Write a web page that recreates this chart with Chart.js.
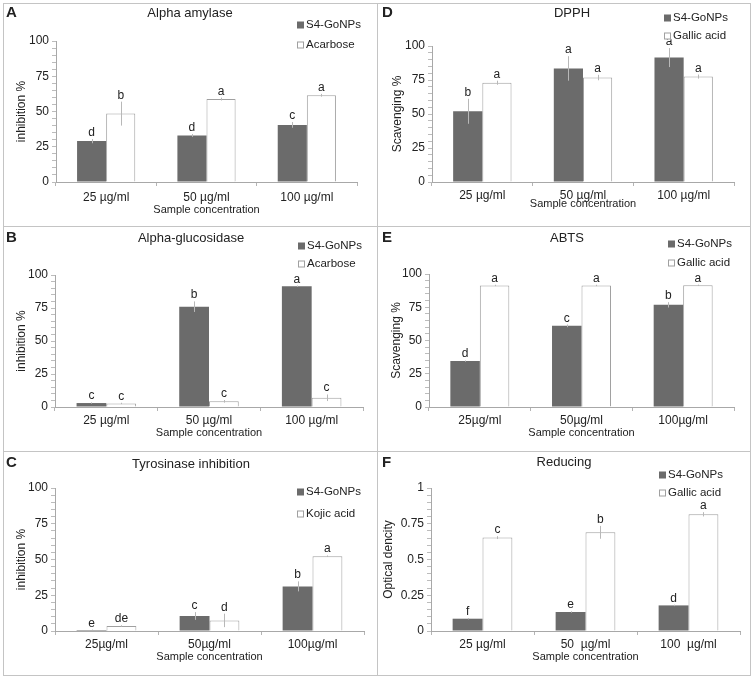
<!DOCTYPE html>
<html lang="en">
<head>
<meta charset="UTF-8" />
<title>Enzyme inhibition and antioxidant activity</title>
<script src="https://cdn.jsdelivr.net/npm/chart.js"></script>
<style>
  body { margin: 0; background: #fff; }
  .figure { position: relative; width: 753px; height: 677px; }
  .figure canvas { position: absolute; }
  .frame { position: absolute; left: 3px; top: 3px; width: 746px; height: 671px; border: 1px solid #c4c4c4; }
  .rule { position: absolute; background: #c4c4c4; }
</style>
</head>
<body>
<div class="figure" id="figure">
  <div class="frame"></div>
  <div class="rule" style="left:377px;top:3px;width:1px;height:673px"></div>
  <div class="rule" style="left:3px;top:226px;width:748px;height:1px"></div>
  <div class="rule" style="left:3px;top:451px;width:748px;height:1px"></div>
</div>

<script>
  // x labels (spacing differs between panels, as in the source figure)
  const catSpaced = ["25 µg/ml", "50 µg/ml", "100 µg/ml"];
  const catTight = ["25µg/ml", "50µg/ml", "100µg/ml"];
  const catWide = ["25 µg/ml", "50  µg/ml", "100  µg/ml"];

  // A - alpha amylase
  const amylaseNP = [29, 33, 40.5];
  const amylaseNPErr = [1.5, 1, 2];
  const amylaseNPSig = ["d", "d", "c"];
  const amylaseAca = [48.5, 58.8, 61.5];
  const amylaseAcaErr = [8.5, 1, 1];
  const amylaseAcaSig = ["b", "a", "a"];

  // B - alpha glucosidase
  const glucoNP = [3, 76, 91.5];
  const glucoNPErr = [0.5, 4, 0.5];
  const glucoNPSig = ["c", "b", "a"];
  const glucoAca = [2.7, 4.3, 7];
  const glucoAcaErr = [0.5, 1, 2.5];
  const glucoAcaSig = ["c", "c", "c"];

  // C - tyrosinase
  const tyroNP = [0.7, 10.5, 31.2];
  const tyroNPErr = [0.3, 2.7, 3.5];
  const tyroNPSig = ["e", "c", "b"];
  const tyroKojic = [3.5, 7.4, 52.3];
  const tyroKojicErr = [0.5, 4.7, 0.5];
  const tyroKojicSig = ["de", "d", "a"];

  // D - DPPH
  const dpphNP = [52, 83.5, 91.5];
  const dpphNPErr = [9.2, 9, 7];
  const dpphNPSig = ["b", "a", "a"];
  const dpphGallic = [73, 76.8, 77.5];
  const dpphGallicErr = [1.5, 2, 1.5];
  const dpphGallicSig = ["a", "a", "a"];

  // E - ABTS
  const abtsNP = [34.5, 61, 76.8];
  const abtsNPErr = [0.5, 1, 2];
  const abtsNPSig = ["d", "c", "b"];
  const abtsGallic = [91.4, 91.4, 91.5];
  const abtsGallicErr = [0.5, 0.5, 0.5];
  const abtsGallicSig = ["a", "a", "a"];

  // F - reducing power
  const redNP = [0.086, 0.133, 0.179];
  const redNPErr = [0.005, 0.005, 0.005];
  const redNPSig = ["f", "e", "d"];
  const redGallic = [0.653, 0.69, 0.816];
  const redGallicErr = [0.01, 0.045, 0.015];
  const redGallicSig = ["c", "b", "a"];

  const W = 377, H = 226;
  const FONT = "'Liberation Sans', Arial, sans-serif";
  const DARK = "#6b6b6b";
  const TEXT = "#222";

  const panels = [
    { tag: "A", left: 0, top: 0, title: "Alpha amylase", tx: 190, ty: 13,
      yTitle: "inhibition %", yTitleX: 22, area: [56, 41, 357, 182], tickPad: 4, xTitleY: 210,
      legX: 297, legY: [25, 45], cats: catSpaced, ref: "Acarbose", max: 100,
      np: [amylaseNP, amylaseNPErr, amylaseNPSig], other: [amylaseAca, amylaseAcaErr, amylaseAcaSig] },
    { tag: "D", left: 376, top: 0, title: "DPPH", tx: 196, ty: 13,
      yTitle: "Scavenging %", yTitleX: 22, area: [56, 46, 358, 182], tickPad: 2, xTitleY: 204,
      legX: 288, legY: [18, 36], cats: catSpaced, ref: "Gallic acid", max: 100,
      np: [dpphNP, dpphNPErr, dpphNPSig], other: [dpphGallic, dpphGallicErr, dpphGallicSig] },
    { tag: "B", left: 0, top: 225, title: "Alpha-glucosidase", tx: 191, ty: 13,
      yTitle: "inhibition %", yTitleX: 22, area: [55, 50, 363, 182], tickPad: 2, xTitleY: 208,
      legX: 298, legY: [21, 39], cats: catSpaced, ref: "Acarbose", max: 100,
      np: [glucoNP, glucoNPErr, glucoNPSig], other: [glucoAca, glucoAcaErr, glucoAcaSig] },
    { tag: "E", left: 376, top: 225, title: "ABTS", tx: 191, ty: 13,
      yTitle: "Scavenging %", yTitleX: 21, area: [53, 49, 358, 182], tickPad: 2, xTitleY: 208,
      legX: 292, legY: [19, 38], cats: catTight, ref: "Gallic acid", max: 100,
      np: [abtsNP, abtsNPErr, abtsNPSig], other: [abtsGallic, abtsGallicErr, abtsGallicSig] },
    { tag: "C", left: 0, top: 450, title: "Tyrosinase inhibition", tx: 191, ty: 14,
      yTitle: "inhibition %", yTitleX: 22, area: [55, 38, 364, 181], tickPad: 2, xTitleY: 207,
      legX: 297, legY: [42, 64], cats: catTight, ref: "Kojic acid", max: 100,
      np: [tyroNP, tyroNPErr, tyroNPSig], other: [tyroKojic, tyroKojicErr, tyroKojicSig] },
    { tag: "F", left: 376, top: 450, title: "Reducing", tx: 188, ty: 12,
      yTitle: "Optical dencity", yTitleX: 13, area: [55, 38, 364, 181], tickPad: 2, xTitleY: 207,
      legX: 283, legY: [25, 43], cats: catWide, ref: "Gallic acid", max: 1,
      np: [redNP, redNPErr, redNPSig], other: [redGallic, redGallicErr, redGallicSig] },
  ];

  // error bars, significance letters, panel tag, title and legend
  const panelDecor = {
    id: "panelDecor",
    afterDatasetsDraw(chart, args, opts) {
      const ctx = chart.ctx;
      const y = chart.scales.y;
      ctx.save();
      chart.data.datasets.forEach((ds, i) => {
        chart.getDatasetMeta(i).data.forEach((bar, j) => {
          const v = ds.data[j];
          const e = ds.errors[j];
          const hi = y.getPixelForValue(v + e);
          const lo = y.getPixelForValue(Math.max(v - e, 0));
          const x = Math.round(bar.x) + 0.5;
          ctx.strokeStyle = "#b8b8b8";
          ctx.lineWidth = 1;
          ctx.beginPath();
          ctx.moveTo(x, hi);
          ctx.lineTo(x, lo);
          ctx.stroke();
          ctx.fillStyle = TEXT;
          ctx.font = "12px " + FONT;
          ctx.textAlign = "center";
          ctx.textBaseline = "alphabetic";
          ctx.fillText(ds.letters[j], bar.x, Math.min(hi, bar.y) - 3);
        });
      });

      ctx.fillStyle = TEXT;
      ctx.textBaseline = "middle";
      ctx.textAlign = "left";
      ctx.font = "bold 15px " + FONT;
      ctx.fillText(opts.tag, 6, 13);
      ctx.textAlign = "center";
      ctx.font = "13px " + FONT;
      ctx.fillText(opts.title, opts.tx, opts.ty);

      ctx.textAlign = "left";
      ctx.font = "11.5px " + FONT;
      chart.data.datasets.forEach((ds, i) => {
        const ry = opts.legY[i];
        ctx.fillStyle = ds.backgroundColor;
        ctx.fillRect(opts.legX, ry - 3.5, 7, 7);
        if (ds.borderWidth) {
          ctx.strokeStyle = ds.borderColor;
          ctx.strokeRect(opts.legX + 0.5, ry - 3, 6, 6);
        }
        ctx.fillStyle = TEXT;
        ctx.fillText(ds.label, opts.legX + 9, ry);
      });
      ctx.restore();
    },
  };

  function makePanel(p) {
    const canvas = document.createElement("canvas");
    canvas.width = W;
    canvas.height = H;
    canvas.style.left = p.left + "px";
    canvas.style.top = p.top + "px";
    document.getElementById("figure").appendChild(canvas);

    const [aL, aT, aR, aB] = p.area;
    const xAxisH = p.xTitleY - aB + 6.6;
    const step = p.max / 20;
    const major = p.max / 4;

    new Chart(canvas.getContext("2d"), {
      type: "bar",
      data: {
        labels: p.cats,
        datasets: [
          { label: "S4-GoNPs", data: p.np[0], errors: p.np[1], letters: p.np[2],
            backgroundColor: DARK, borderWidth: 0 },
          { label: p.ref, data: p.other[0], errors: p.other[1], letters: p.other[2],
            backgroundColor: "#ffffff", borderColor: "#a0a0a0", borderWidth: 1 },
        ],
      },
      options: {
        responsive: false,
        animation: false,
        events: [],
        categoryPercentage: 0.58,
        barPercentage: 1,
        layout: { padding: { left: 0, top: aT, right: W - aR, bottom: H - aB - xAxisH } },
        plugins: {
          legend: { display: false },
          tooltip: { enabled: false },
          panelDecor: p,
        },
        scales: {
          x: {
            afterFit: (s) => { s.height = xAxisH; },
            border: { color: "#a8a8a8" },
            grid: { drawOnChartArea: false, tickLength: 4, tickColor: "#b4b4b4" },
            ticks: { color: TEXT, padding: p.tickPad, font: { size: 12, family: FONT } },
            title: { display: true, text: "Sample concentration", color: TEXT,
              padding: { top: 0, bottom: 0 }, font: { size: 11, family: FONT } },
          },
          y: {
            min: 0,
            max: p.max,
            afterFit: (s) => { s.width = aL; },
            border: { color: "#a8a8a8" },
            grid: { drawOnChartArea: false, tickLength: 4, tickColor: "#bcbcbc" },
            ticks: {
              stepSize: step,
              autoSkip: false,
              padding: 3,
              color: TEXT,
              font: { size: 12, family: FONT },
              callback: (v) => {
                const k = v / major;
                return Math.abs(k - Math.round(k)) < 1e-6 ? String(+(Math.round(k) * major).toFixed(2)) : "";
              },
            },
            title: { display: true, text: p.yTitle, color: TEXT,
              padding: { top: p.yTitleX - 7.2, bottom: 0 }, font: { size: 12, family: FONT } },
          },
        },
      },
      plugins: [panelDecor],
    });
  }

  document.addEventListener("DOMContentLoaded", () => {
    panels.forEach(makePanel);
  });
</script>
</body>
</html>
